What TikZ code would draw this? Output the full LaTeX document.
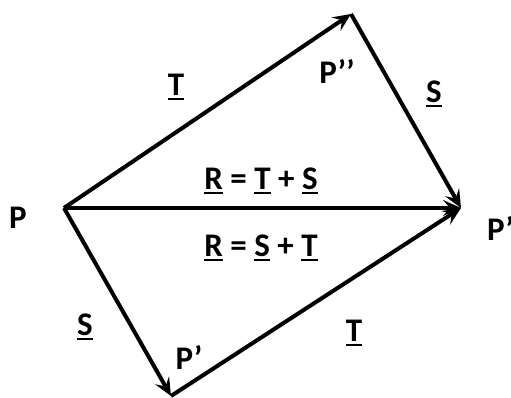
\documentclass[tikz,border=0pt]{standalone}
\usepackage{fontspec}
\setmainfont{Carlito}
\usetikzlibrary{arrows.meta}
\newcommand{\ulx}[1]{\vtop{\hbox{#1}\kern2.5pt\hrule height 2.5pt}}
\begin{document}
\begin{tikzpicture}[x=1pt,y=1pt,
  vec/.style={line width=4pt,-{Stealth[length=18pt,width=16pt,inset=7pt]}},
  lbl/.style={font=\bfseries\fontsize{33}{35}\selectfont,inner sep=0pt}]
\useasboundingbox (0,0) rectangle (511,398);
\coordinate (P) at (64,190);
\coordinate (P2) at (351,384);
\coordinate (P3) at (461,190);
\coordinate (P1) at (171,2);
\draw[vec] (P) -- (P2);
\draw[vec] (P2) -- (P3);
\draw[vec] (P) -- (P3);
\draw[vec] (P) -- (P1);
\draw[vec] (P1) -- (P3);
\node[lbl] (lp) at (18,180) {P};
\node[lbl] (lp2) at (337,326) {P’’};
\node[lbl] (lp1) at (189,41) {P’};
\node[lbl,anchor=west] (lp3) at (487,169) {P’’’};
\node[lbl] (lt1) at (176,311) {\ulx{T}};
\node[lbl] (ls1) at (434,304) {\ulx{S}};
\node[lbl] (lr1) at (261,217) {\ulx{R} = \ulx{T} + \ulx{S}};
\node[lbl] (lr2) at (261,150) {\ulx{R} = \ulx{S} + \ulx{T}};
\node[lbl] (ls2) at (85,71) {\ulx{S}};
\node[lbl] (lt2) at (354,65) {\ulx{T}};
\end{tikzpicture}
\end{document}
